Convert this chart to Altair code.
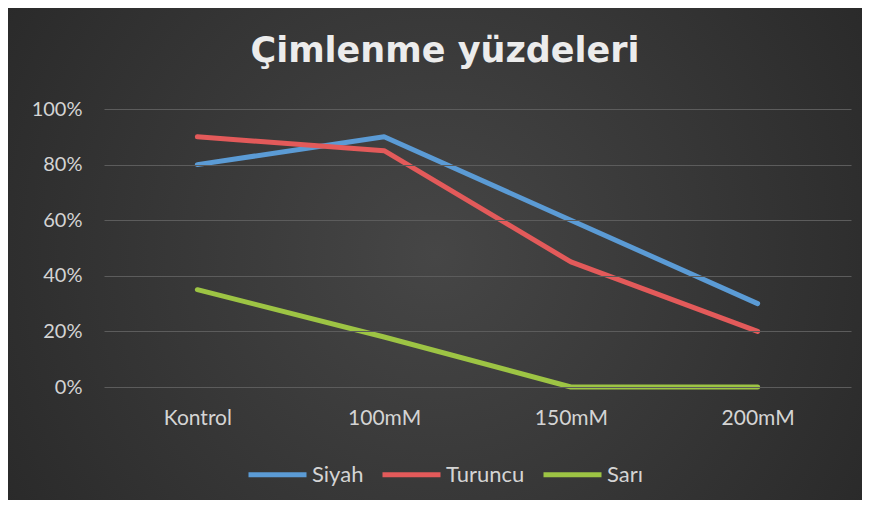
import altair as alt
import pandas as pd

title_text = "Çimlenme yüzdeleri"
categories = ["Kontrol", "100mM", "150mM", "200mM"]
series = ["Siyah", "Turuncu", "Sarı"]
siyah = [0.80, 0.90, 0.60, 0.30]
turuncu = [0.90, 0.85, 0.45, 0.20]
sari = [0.35, 0.18, 0.00, 0.00]
colors = ["#5b9bd5", "#e35a5a", "#9dc444"]

rows = []
for name, vals in zip(series, [siyah, turuncu, sari]):
    for c, v in zip(categories, vals):
        rows.append({"Kategori": c, "Seri": name, "Deger": v})
df = pd.DataFrame(rows)

W, H = 747, 278
PL, PT, PR, PB = 96, 101, 11, 113

bg = alt.Chart(pd.DataFrame({"a": [0]})).mark_rect().encode(
    x=alt.value(-PL), x2=alt.value(W + PR),
    y=alt.value(-PT), y2=alt.value(H + PB),
    color=alt.value({
        "gradient": "radial",
        "x1": 0.5, "y1": 0.5, "r1": 0.0,
        "x2": 0.5, "y2": 0.5, "r2": 0.75,
        "stops": [
            {"offset": 0.0, "color": "#464646"},
            {"offset": 1.0, "color": "#222222"},
        ],
    }),
)

lines = alt.Chart(df).mark_line(strokeWidth=5, strokeCap="round", strokeJoin="round").encode(
    x=alt.X("Kategori:N", sort=categories, title=None,
            scale=alt.Scale(paddingInner=0, paddingOuter=0.5),
            axis=alt.Axis(labelAngle=0, domain=False, ticks=False, labelPadding=20,
                          labelFontSize=21, labelColor="#d4d4d4", labelFont="Lato",
                          zindex=1)),
    y=alt.Y("Deger:Q", title=None,
            scale=alt.Scale(domain=[0, 1]),
            axis=alt.Axis(format=".0%", values=[0, 0.2, 0.4, 0.6, 0.8, 1.0],
                          domain=False, ticks=False, labelPadding=22,
                          labelFontSize=20, labelColor="#d4d4d4", labelFont="Lato",
                          gridColor="#5c5c5c", gridWidth=1.2, zindex=1)),
    color=alt.Color("Seri:N", sort=series,
                    scale=alt.Scale(domain=series, range=colors),
                    legend=alt.Legend(title=None, orient="none", direction="horizontal",
                                      legendX=142, legendY=H + 56,
                                      symbolType="M-1,0H1", symbolStrokeWidth=5,
                                      symbolSize=3364, labelFontSize=22,
                                      labelColor="#d4d4d4", labelFont="Lato",
                                      columnPadding=8, labelOffset=3)),
)

title = alt.Chart(pd.DataFrame({"t": [title_text]})).mark_text(
    font="DejaVu Sans", fontWeight="bold", fontSize=35, color="#ececec",
    align="center", baseline="alphabetic",
).encode(text="t:N", x=alt.value(341), y=alt.value(-47))

chart = alt.layer(bg, lines, title).properties(
    width=W, height=H,
    padding={"left": PL, "top": PT, "right": PR, "bottom": PB},
    autosize=alt.AutoSizeParams(type="none"),
    background="#2b2b2b",
).configure_view(strokeWidth=0)

chart.save("out.html", embed_options={"renderer": "svg", "actions": False})
